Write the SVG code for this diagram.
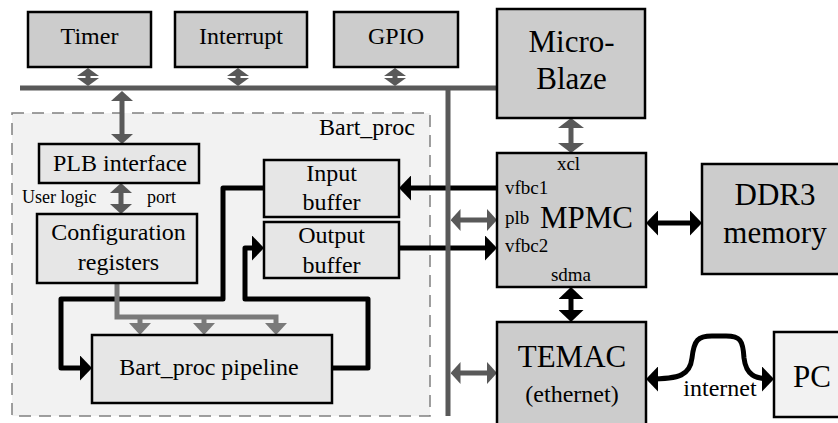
<svg xmlns="http://www.w3.org/2000/svg" width="838" height="423" viewBox="0 0 838 423">
<style>
.box{stroke:#000;stroke-width:2.5}
.top{fill:#cccccc}
.in{fill:#e6e6e6}
.light{fill:#f2f2f2}
.t24{font-size:24px}
.t30{font-size:31px}
.t19{font-size:19px}
.t18{font-size:18px}
.mid{text-anchor:middle}
.bus{stroke:#595959;stroke-width:5;fill:none}
.g{stroke:#595959;stroke-width:5;fill:none}
.c{stroke:#7a7a7a;stroke-width:5;fill:none}
.k{stroke:#000;stroke-width:5;fill:none;stroke-linejoin:round}
</style>
<defs>
<marker id="hs" markerUnits="userSpaceOnUse" viewBox="0 0 8 22" markerWidth="8" markerHeight="22" refX="5" refY="11" orient="auto-start-reverse"><path d="M0,0 L8,11 L0,22 z" fill="#595959"/></marker>
<marker id="hg" markerUnits="userSpaceOnUse" viewBox="0 0 10 22" markerWidth="10" markerHeight="22" refX="7" refY="11" orient="auto-start-reverse"><path d="M0,0 L10,11 L0,22 z" fill="#595959"/></marker>
<marker id="hG" markerUnits="userSpaceOnUse" viewBox="0 0 10 26" markerWidth="10" markerHeight="26" refX="7" refY="13" orient="auto-start-reverse"><path d="M0,0 L10,13 L0,26 z" fill="#595959"/></marker>
<marker id="hc" markerUnits="userSpaceOnUse" viewBox="0 0 12 22" markerWidth="12" markerHeight="22" refX="9" refY="11" orient="auto-start-reverse"><path d="M0,0 L12,11 L0,22 z" fill="#7a7a7a"/></marker>
<marker id="hk" markerUnits="userSpaceOnUse" viewBox="0 0 12 25" markerWidth="12" markerHeight="25" refX="9" refY="12.5" orient="auto-start-reverse"><path d="M0,0 L12,12.5 L0,25 z" fill="#000"/></marker>
</defs>

<g font-family="'Liberation Serif', 'Times New Roman', 'DejaVu Serif', serif" fill="#000">

<g id="bart_proc">
<rect x="12" y="113" width="418" height="303" fill="#f2f2f2" stroke="#808080" stroke-width="1.5" stroke-dasharray="12 8"/>
<text x="415" y="135" class="t24" text-anchor="end">Bart_proc</text>
</g>

<g id="connectors">
<path class="k" d="M497,188 H402" marker-end="url(#hk)"/>
<path class="k" d="M264,188 H223 V299 H61 V368 H89" marker-end="url(#hk)"/>
<path class="k" d="M332,368 H368 V299 H245 V248 H261" marker-end="url(#hk)"/>
<path class="k" d="M399,248 H494" marker-end="url(#hk)"/>
<path class="k" d="M649,223 H699" marker-start="url(#hk)" marker-end="url(#hk)"/>
<path class="k" d="M571,290 V319" marker-start="url(#hk)" marker-end="url(#hk)"/>
<path class="k" d="M649,379 C680,379 690,375 692,358 C694,340 698,336 712,336 L726,336 C740,336 743,340 744,358 C746,375 755,379 771,379" marker-start="url(#hk)" marker-end="url(#hk)"/>
<path class="c" d="M117,283 V317 H276 V332" marker-end="url(#hc)"/>
<path class="c" d="M140,317 V332" marker-end="url(#hc)"/>
<path class="c" d="M204,317 V332" marker-end="url(#hc)"/>
<path class="bus" d="M20,88 H497"/>
<path class="bus" d="M448,88 V416"/>
<path class="g" d="M88,71 V83" marker-start="url(#hs)" marker-end="url(#hs)"/>
<path class="g" d="M238,71 V83" marker-start="url(#hs)" marker-end="url(#hs)"/>
<path class="g" d="M395,71 V83" marker-start="url(#hs)" marker-end="url(#hs)"/>
<path class="g" d="M122,94 V141" marker-start="url(#hg)" marker-end="url(#hg)"/>
<path class="g" d="M121,186 V211" marker-start="url(#hg)" marker-end="url(#hg)"/>
<path class="g" d="M571,121 V150" marker-start="url(#hG)" marker-end="url(#hG)"/>
<path class="g" d="M453.5,220 H494" marker-start="url(#hg)" marker-end="url(#hg)"/>
<path class="g" d="M453.5,373 H494" marker-start="url(#hg)" marker-end="url(#hg)"/>
</g>

<g id="timer"><rect class="box top" x="28" y="12" width="123" height="55"/><text x="89.5" y="44" class="t24 mid">Timer</text></g>
<g id="interrupt"><rect class="box top" x="175" y="12" width="132" height="55"/><text x="241" y="44" class="t24 mid">Interrupt</text></g>
<g id="gpio"><rect class="box top" x="334" y="12" width="124" height="55"/><text x="396" y="44" class="t24 mid">GPIO</text></g>
<g id="microblaze"><rect class="box top" x="497" y="9" width="148" height="109"/><text x="571.5" y="52" class="t30 mid">Micro-</text><text x="571.5" y="89" class="t30 mid">Blaze</text></g>
<g id="plb_interface"><rect class="box in" x="39" y="144" width="160" height="39"/><text x="120" y="171" class="t24 mid">PLB interface</text></g>
<g id="user_logic_port"><text x="22" y="203" class="t18">User logic</text><text x="147" y="203" class="t18">port</text></g>
<g id="config_registers"><rect class="box in" x="37" y="214" width="160" height="69"/><text x="118.5" y="240" class="t24 mid">Configuration</text><text x="118.5" y="270" class="t24 mid">registers</text></g>
<g id="input_buffer"><rect class="box in" x="264" y="160" width="135" height="57"/><text x="331.5" y="181" class="t24 mid">Input</text><text x="331.5" y="210" class="t24 mid">buffer</text></g>
<g id="output_buffer"><rect class="box in" x="264" y="222" width="135" height="56"/><text x="331.5" y="243" class="t24 mid">Output</text><text x="331.5" y="273" class="t24 mid">buffer</text></g>
<g id="pipeline"><rect class="box in" x="92" y="335" width="240" height="68"/><text x="209" y="375" class="t24 mid">Bart_proc pipeline</text></g>
<g id="mpmc"><rect class="box top" x="497" y="153" width="149" height="134"/>
<text x="568.5" y="170" class="t19 mid">xcl</text>
<text x="505" y="194" class="t19">vfbc1</text>
<text x="505" y="224" class="t19">plb</text>
<text x="540" y="228" class="t30">MPMC</text>
<text x="505" y="252" class="t19">vfbc2</text>
<text x="571" y="281" class="t19 mid">sdma</text></g>
<g id="ddr3"><rect class="box top" x="702" y="164" width="150" height="110"/><text x="775" y="205" class="t30 mid">DDR3</text><text x="775" y="243" class="t30 mid">memory</text></g>
<g id="temac"><rect class="box top" x="497" y="322" width="149" height="120"/><text x="572" y="367" class="t30 mid">TEMAC</text><text x="572" y="402" class="t24 mid">(ethernet)</text></g>
<g id="pc"><rect class="box light" x="774" y="332" width="80" height="85"/><text x="812" y="387" class="t30 mid">PC</text></g>
<text x="720" y="396" class="t24 mid">internet</text>
</g>
</svg>
